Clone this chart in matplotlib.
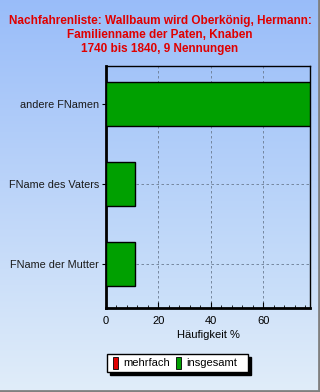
import numpy as np
import matplotlib
matplotlib.use("Agg")
import matplotlib.pyplot as plt
from matplotlib.patches import Rectangle
from matplotlib.ticker import MultipleLocator

# data
kategorien = ["FName der Mutter", "FName des Vaters", "andere FNamen"]
insgesamt = [11.1, 11.1, 77.8]
mehrfach = [0, 0, 0]
titel = "Nachfahrenliste: Wallbaum wird Oberkönig, Hermann:\nFamilienname der Paten, Knaben\n1740 bis 1840, 9 Nennungen"

plt.rcParams['font.family'] = ['Liberation Sans', 'DejaVu Sans']

fig = plt.figure(figsize=(3.2, 3.92), dpi=100)

# hintergrund mit verlauf
bg = fig.add_axes([0, 0, 1, 1])
top = np.array([0.60, 0.74, 0.98])
bot = np.array([0.88, 0.93, 0.98])
t = np.linspace(0, 1, 256)[:, None]
grad = top * (1 - t) + bot * t
bg.imshow(grad[:, None, :], aspect='auto', extent=[0, 1, 0, 1])
bg.set_xlim(0, 1)
bg.set_ylim(0, 1)
bg.axis('off')
# rahmen
bg.plot([0, 1], [0.003, 0.003], color='#808080', lw=2)
bg.plot([0.997, 0.997], [0, 1], color='#808080', lw=2)

fig.text(0.5, 1-35/392, titel, ha='center', va='center', color='#e00000',
         fontsize=8.5, fontweight='bold', linespacing=1.2)

ax = fig.add_axes([106/320, 1-308/392, 204/320, 242/392])
top2 = np.array([0.64, 0.77, 0.98])
bot2 = np.array([0.80, 0.88, 0.98])
t2 = np.linspace(0, 1, 256)[:, None]
g2 = top2 * (1 - t2) + bot2 * t2
ax.imshow(g2[:, None, :], aspect='auto', extent=[0, 77.8, -0.55, 2.475], zorder=0)

y = np.arange(len(kategorien))
ax.barh(y, insgesamt, height=0.54, color='#00a000', edgecolor='black', lw=1, zorder=3)
ax.set_xlim(0, 77.8)
ax.set_ylim(-0.55, 2.475)
ax.set_yticks(y)
ax.set_yticklabels(kategorien, fontsize=7.8, color='#1a1a1a')
ax.xaxis.set_major_locator(MultipleLocator(20))
ax.xaxis.set_minor_locator(MultipleLocator(4))
ax.tick_params(axis='x', which='both', direction='in', labelsize=8, pad=6)
ax.tick_params(axis='x', which='major', length=4)
ax.tick_params(axis='x', which='minor', length=2)
ax.tick_params(axis='y', length=3, pad=2)
ax.grid(True, ls=(0, (3, 3)), color='#6a7a90', lw=0.6, zorder=1)
ax.set_axisbelow(True)
ax.set_xlabel("Häufigkeit %", fontsize=8, labelpad=3)
for s in ['left', 'bottom']:
    ax.spines[s].set_linewidth(2)
for s in ['top', 'right']:
    ax.spines[s].set_linewidth(1)

# legende
lx, ly, lw_, lh = 107/320, 1-372/392, 141/320, 18/392
bg.add_patch(Rectangle((lx+3/320, ly-3/392), lw_, lh, color='black', zorder=2))
bg.add_patch(Rectangle((lx, ly), lw_, lh, facecolor='white', edgecolor='black', lw=1, zorder=3))
bg.add_patch(Rectangle((113/320, 1-369/392), 5/320, 12/392, facecolor='#e00000', edgecolor='black', lw=0.6, zorder=4))
bg.text(123/320, 1-363/392, "mehrfach", fontsize=8, va='center', zorder=5)
bg.add_patch(Rectangle((176/320, 1-369/392), 5/320, 12/392, facecolor='#00a000', edgecolor='black', lw=0.6, zorder=4))
bg.text(186/320, 1-363/392, "insgesamt", fontsize=8, va='center', zorder=5)

fig.savefig("out.png", dpi=100)
